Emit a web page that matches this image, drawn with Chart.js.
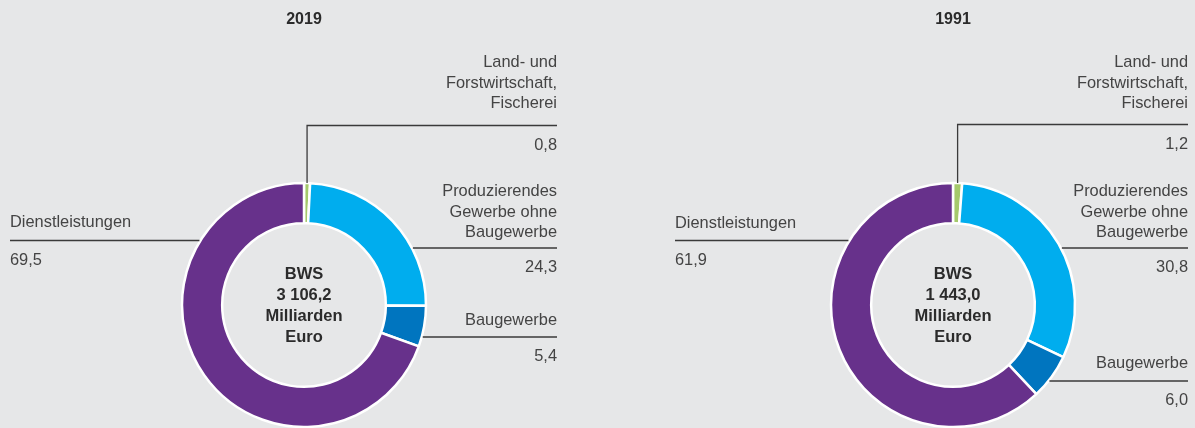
<!DOCTYPE html>
<html>
<head>
<meta charset="utf-8">
<script src="https://cdn.jsdelivr.net/npm/chart.js@4"></script>
<style>
  html, body { margin: 0; padding: 0; background: #e6e7e8; }
  #wrap { position: relative; width: 1195px; height: 428px; overflow: hidden; }
  canvas { position: absolute; top: 0; }
</style>
</head>
<body>
<div id="wrap">
  <canvas id="c2019" width="597" height="428" style="left:0"></canvas>
  <canvas id="c1991" width="598" height="428" style="left:597px"></canvas>
</div>
<script>
// Daten (Anteile an der Bruttowertschöpfung in %)
const categories = ['Land- und Forstwirtschaft, Fischerei', 'Produzierendes Gewerbe ohne Baugewerbe', 'Baugewerbe', 'Dienstleistungen'];
const labelLines = [['Land- und', 'Forstwirtschaft,', 'Fischerei'], ['Produzierendes', 'Gewerbe ohne', 'Baugewerbe'], ['Baugewerbe'], ['Dienstleistungen']];
const years = ['2019', '1991'];
const shares2019 = [0.8, 24.3, 5.4, 69.5];
const shares1991 = [1.2, 30.8, 6.0, 61.9];
const totals = ['3 106,2', '1 443,0'];
const colors = ['#a5c96b', '#00adee', '#0075bf', '#67318b'];

const FONT = "'Liberation Sans', Arial, sans-serif";

const fmt = v => v.toFixed(1).replace('.', ',');

// Beschriftungen mit Führungslinien + Text in der Mitte
const leaderPlugin = {
  id: 'leaders',
  afterDatasetsDraw(chart, args, opts) {
    const ctx = chart.ctx;
    const meta = chart.getDatasetMeta(0);
    const values = chart.data.datasets[0].data;
    const first = meta.data[0];
    const cx = first.x, cy = first.y, R = first.outerRadius;

    ctx.save();
    ctx.strokeStyle = '#3a3a3a';
    ctx.lineWidth = 1.3;

    meta.data.forEach((arc, i) => {
      const L = opts.lineY[i];
      const side = opts.side[i];
      ctx.beginPath();
      if (side === 'top') {
        const mid = (arc.startAngle + arc.endAngle) / 2;
        const x = cx + R * Math.cos(mid);
        const y = cy + R * Math.sin(mid);
        ctx.moveTo(x, y);
        ctx.lineTo(x, L);
        ctx.lineTo(opts.rightX, L);
      } else {
        const dx = Math.sqrt(Math.max(R * R - (L - cy) * (L - cy), 0));
        if (side === 'right') {
          ctx.moveTo(cx + dx + 1, L);
          ctx.lineTo(opts.rightX, L);
        } else {
          ctx.moveTo(opts.leftX, L);
          ctx.lineTo(cx - dx - 1, L);
        }
      }
      ctx.stroke();

      // Texte
      ctx.fillStyle = '#444444';
      ctx.font = '16.4px ' + FONT;
      ctx.textBaseline = 'alphabetic';
      const tx = side === 'left' ? opts.leftX : opts.rightX;
      ctx.textAlign = side === 'left' ? 'left' : 'right';
      const lines = labelLines[i];
      lines.forEach((t, k) => {
        ctx.fillText(t, tx, opts.textY[i] - (lines.length - 1 - k) * 20.5);
      });
      ctx.fillText(fmt(values[i]), tx, L + 24);
    });

    // Mitte
    ctx.fillStyle = '#2b2b2b';
    ctx.font = 'bold 16.5px ' + FONT;
    ctx.textAlign = 'center';
    ['BWS', opts.total, 'Milliarden', 'Euro'].forEach((t, k) => {
      ctx.fillText(t, cx, cy - 26 + k * 21);
    });

    // Jahr
    ctx.font = 'bold 16px ' + FONT;
    ctx.fillText(opts.year, cx, 24);
    ctx.restore();
  }
};

function makeDoughnut(canvasId, values, year, total, padding, layout) {
  const ctx = document.getElementById(canvasId).getContext('2d');
  return new Chart(ctx, {
    type: 'doughnut',
    data: {
      labels: categories,
      datasets: [{
        data: values,
        backgroundColor: colors,
        borderColor: '#ffffff',
        borderWidth: 2.5
      }]
    },
    options: {
      responsive: false,
      animation: false,
      radius: 122,
      cutout: 81,
      layout: { padding: padding },
      plugins: {
        legend: { display: false },
        tooltip: { enabled: false },
        leaders: Object.assign({ year: year, total: total }, layout)
      }
    },
    plugins: [leaderPlugin]
  });
}

makeDoughnut('c2019', shares2019, years[0], totals[0],
  { left: 182, right: 171, top: 183, bottom: 1 },
  {
    side: ['top', 'right', 'right', 'left'],
    lineY: [125.5, 248, 337, 240.5],
    textY: [108, 237, 325, 227],
    rightX: 557,
    leftX: 10
  });

makeDoughnut('c1991', shares1991, years[1], totals[1],
  { left: 234, right: 120, top: 183, bottom: 1 },
  {
    side: ['top', 'right', 'right', 'left'],
    lineY: [124.5, 248, 381, 240.5],
    textY: [108, 237, 368, 228],
    rightX: 591,
    leftX: 78
  });
</script>
</body>
</html>
